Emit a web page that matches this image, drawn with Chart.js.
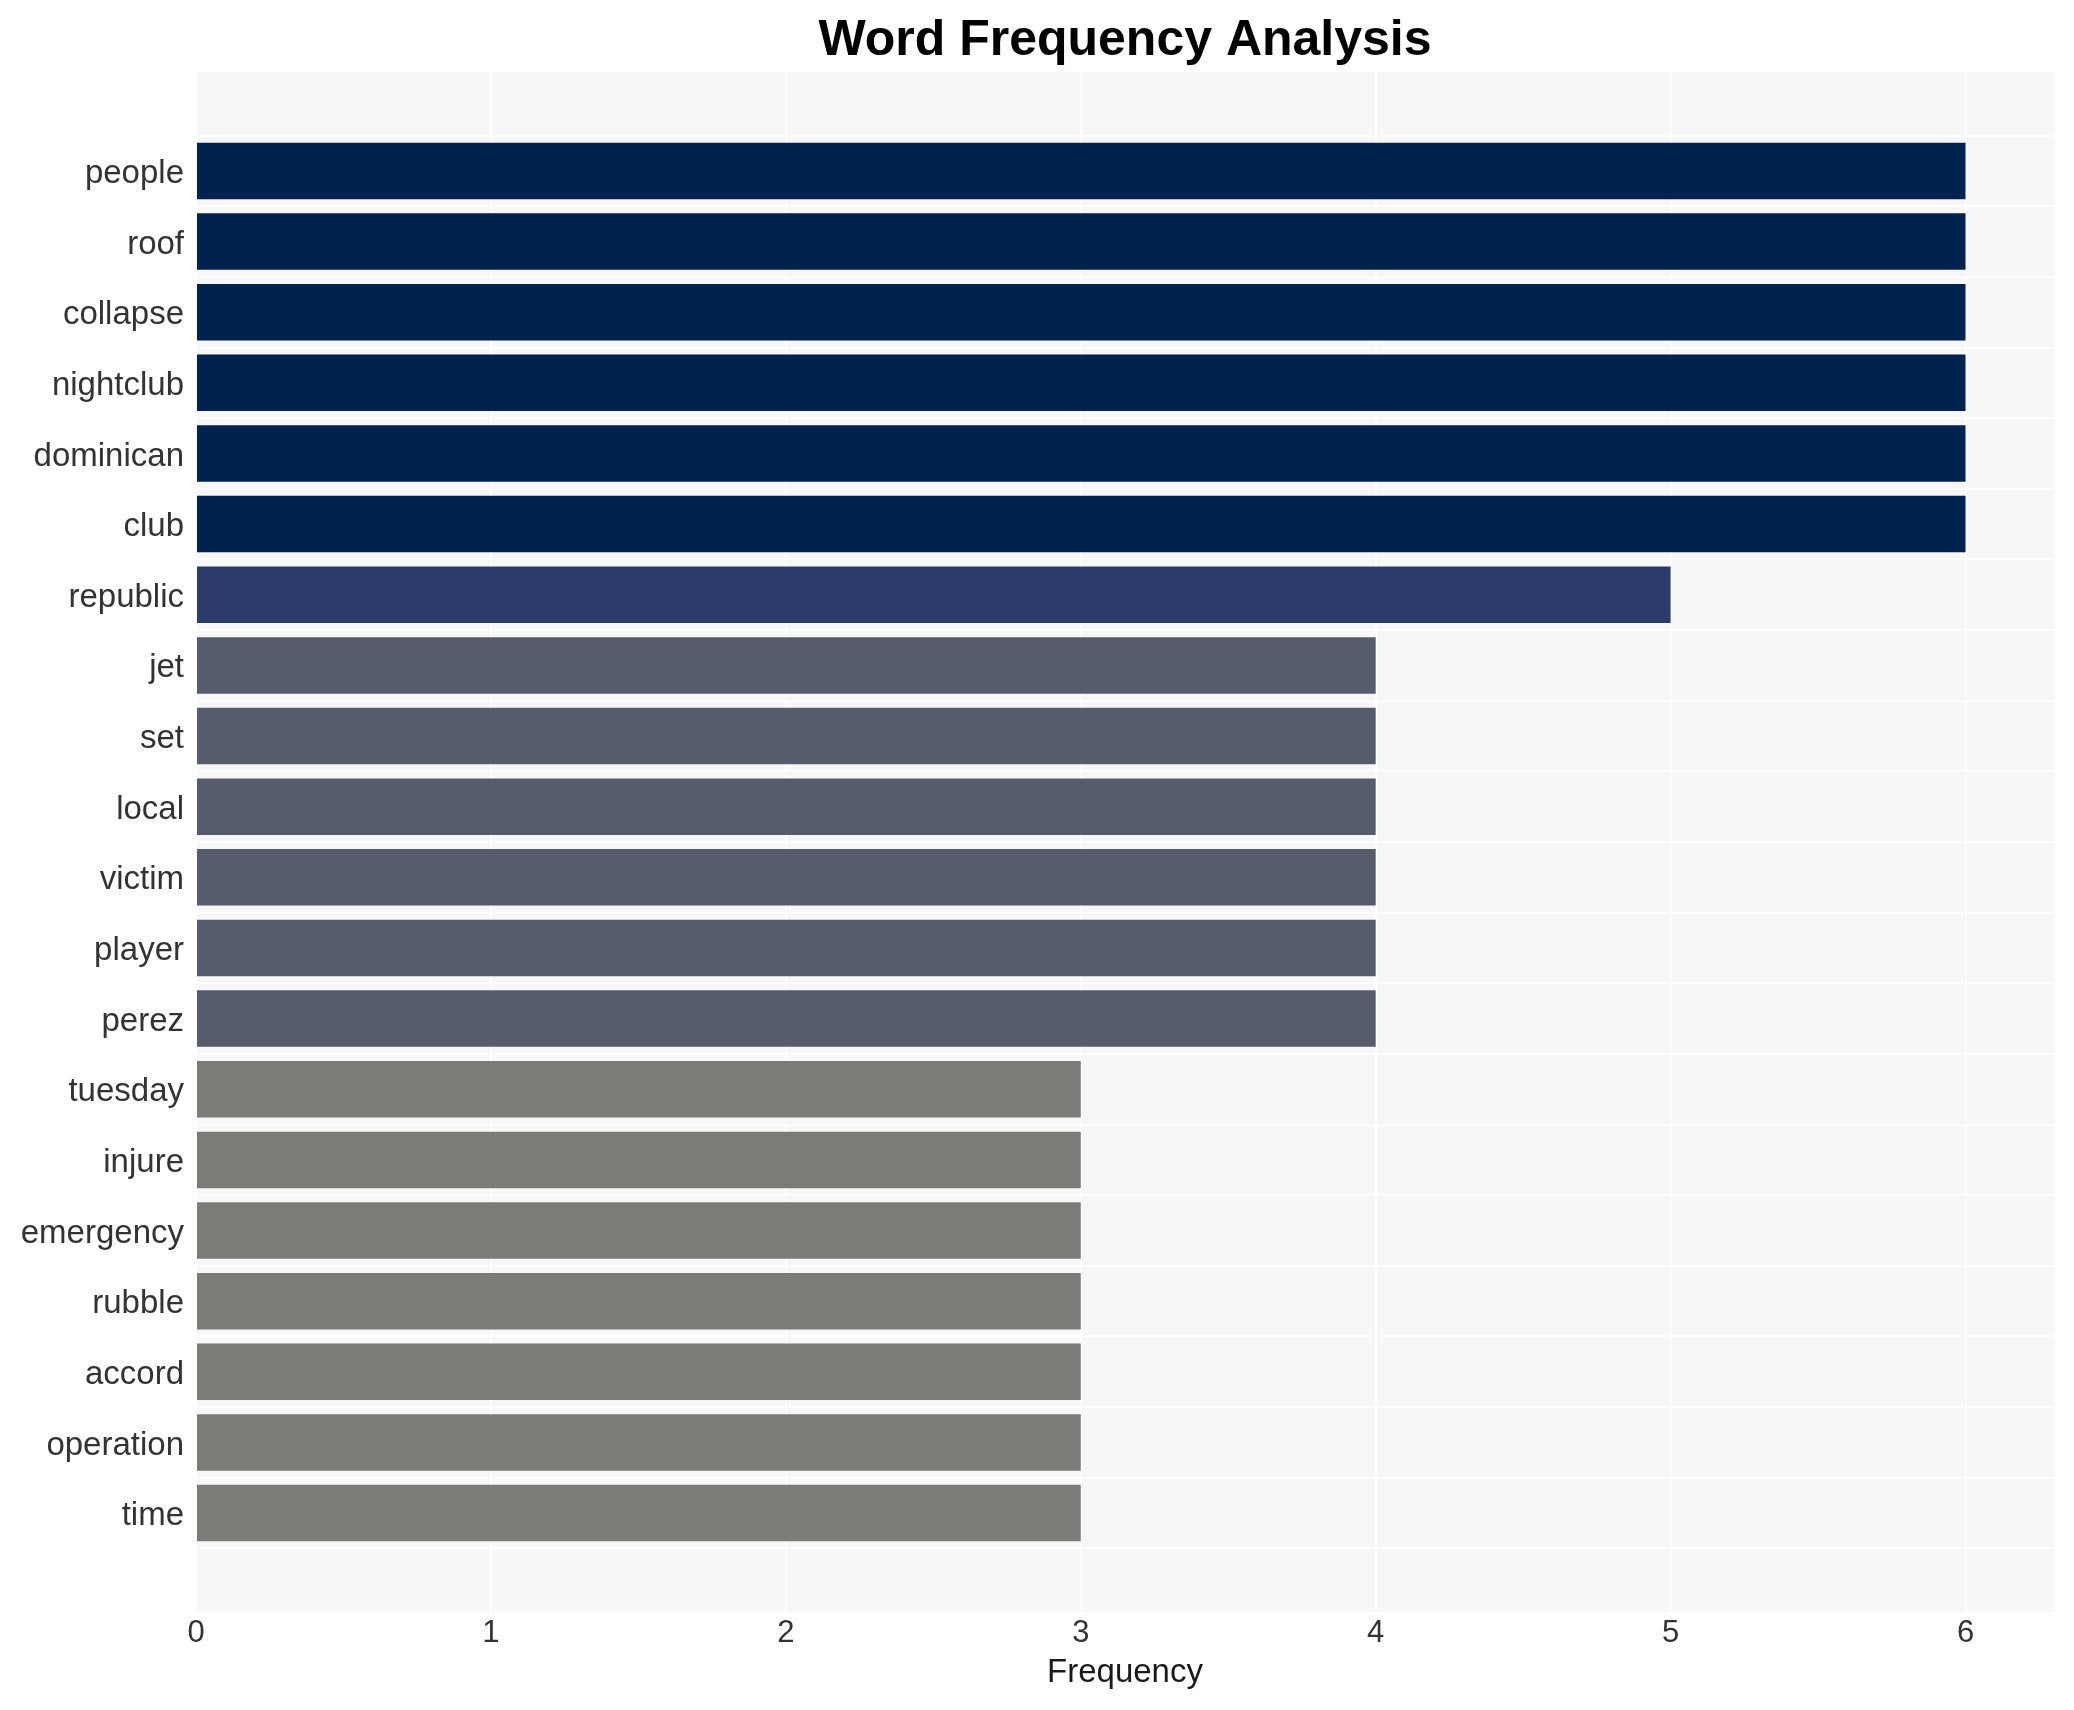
<!DOCTYPE html>
<html>
<head>
<meta charset="utf-8">
<title>Word Frequency Analysis</title>
<script src="https://cdn.jsdelivr.net/npm/chart.js@4.4.1/dist/chart.umd.min.js"></script>
<style>
    html, body { margin: 0; padding: 0; background: #ffffff; }
    #wrap { width: 2074px; height: 1710px; }
</style>
</head>
<body>
<div id="wrap"><canvas id="wordChart" width="2074" height="1710"></canvas></div>
<script>
// Данные графика
const words = ['people', 'roof', 'collapse', 'nightclub', 'dominican', 'club', 'republic',
    'jet', 'set', 'local', 'victim', 'player', 'perez',
    'tuesday', 'injure', 'emergency', 'rubble', 'accord', 'operation', 'time'];
const frequencies = [6, 6, 6, 6, 6, 6, 5, 4, 4, 4, 4, 4, 4, 3, 3, 3, 3, 3, 3, 3];
const xTicks = [0, 1, 2, 3, 4, 5, 6];

// Цвет столбца зависит от частоты
const colorByValue = { 6: '#00224E', 5: '#2C3D6B', 4: '#575C6D', 3: '#7C7B78' };

const FONT = "'Liberation Sans', Arial, sans-serif";

// Серый фон области построения
const panelBg = {
    id: 'panelBg',
    beforeDraw(chart) {
        const { ctx, chartArea: a } = chart;
        ctx.save();
        ctx.fillStyle = '#F7F7F7';
        ctx.fillRect(a.left, a.top, a.right - a.left, a.bottom - a.top);
        ctx.restore();
    }
};

const ctx = document.getElementById('wordChart');

new Chart(ctx, {
    type: 'bar',
    data: {
        datasets: [{
            data: frequencies.map((v, i) => ({ x: v, y: i })),
            backgroundColor: frequencies.map(v => colorByValue[v]),
            borderWidth: 0,
            barPercentage: 0.8,
            categoryPercentage: 1.0
        }]
    },
    options: {
        indexAxis: 'y',
        responsive: false,
        animation: false,
        devicePixelRatio: 1,
        layout: { padding: { top: 0, right: 20, bottom: 0, left: 0 } },
        scales: {
            x: {
                type: 'linear',
                position: 'bottom',
                min: 0,
                max: 6.3,
                afterBuildTicks: axis => { axis.ticks = xTicks.map(v => ({ value: v })); },
                afterFit: axis => { axis.height = 98; },
                grid: { color: '#ffffff', lineWidth: 2, drawTicks: false },
                border: { display: false },
                ticks: {
                    padding: 3,
                    color: '#333333',
                    font: { family: FONT, size: 31 }
                },
                title: {
                    display: true,
                    text: 'Frequency',
                    color: '#1a1a1a',
                    font: { family: FONT, size: 33 },
                    padding: { top: 0, bottom: 17 }
                }
            },
            y: {
                type: 'linear',
                offset: false,
                min: -1.4,
                max: 20.4,
                reverse: true,
                afterBuildTicks: axis => { axis.ticks = words.map((w, i) => ({ value: i })); },
                afterFit: axis => { axis.width = 196; },
                grid: { color: '#ffffff', lineWidth: 2, drawTicks: false },
                border: { display: false },
                ticks: {
                    padding: 12,
                    labelOffset: 3,
                    color: '#333333',
                    font: { family: FONT, size: 33 },
                    callback: value => words[value]
                }
            }
        },
        plugins: {
            legend: { display: false },
            tooltip: { enabled: false },
            title: {
                display: true,
                fullSize: false,
                text: 'Word Frequency Analysis',
                color: '#000000',
                font: { family: FONT, size: 50, weight: 'bold' },
                padding: { top: 11, bottom: 1 }
            }
        }
    },
    plugins: [panelBg]
});
</script>
</body>
</html>
